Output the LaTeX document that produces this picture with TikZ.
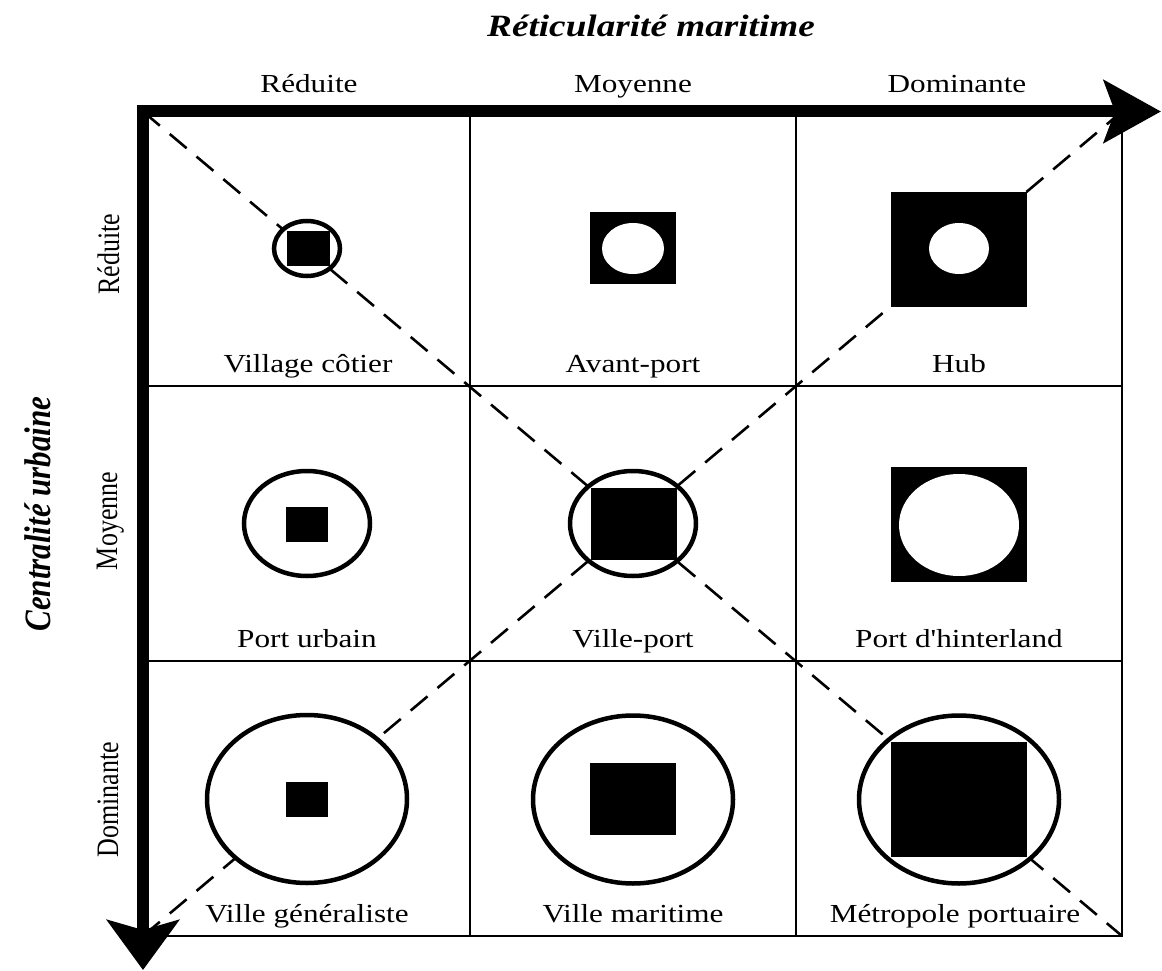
\documentclass[tikz,border=0pt]{standalone}
\usepackage{fontspec}
\setmainfont{Liberation Serif}
\usepackage{graphicx}
\usetikzlibrary{arrows.meta,shapes.geometric}
\newcommand\hstr[1]{\scalebox{1.2}[1]{#1}}
\newcommand\vstr[1]{\scalebox{1}[1.2]{#1}}
\begin{document}
\begin{tikzpicture}[x=1pt,y=-1pt,
  grid/.style={line width=2pt, line cap=rect},
  diag/.style={line width=2.6pt, dash pattern=on 22pt off 13pt},
  ring/.style={ellipse, draw, line width=4.5pt, fill=white, inner sep=0pt, outer sep=0pt},
  hole/.style={ellipse, fill=white, inner sep=0pt, outer sep=0pt},
  blk/.style={rectangle, fill=black, inner sep=0pt, outer sep=0pt},
  lbl/.style={font=\fontsize{26}{30}\selectfont, anchor=base, inner sep=0pt},
  rlbl/.style={font=\fontsize{26}{30}\selectfont, anchor=base, inner sep=0pt, rotate=90},
  ttl/.style={font=\fontsize{31}{35}\selectfont\bfseries\itshape, anchor=base, inner sep=0pt},
  rttl/.style={font=\fontsize{31}{35}\selectfont\bfseries\itshape, anchor=base, inner sep=0pt, rotate=90},
]
\fill[white] (0,0) rectangle (1162,971);
\useasboundingbox (0,0) rectangle (1162,971);

% corner coordinates
\coordinate (TL) at (143,111.5);
\coordinate (TR) at (1122,111.5);
\coordinate (BL) at (143,936);
\coordinate (BR) at (1122,936);
\coordinate (Xend) at (1161,111.5);
\coordinate (Yend) at (143,970);

% grid
\draw[grid] (470,111.5) -- (470,936);
\draw[grid] (796,111.5) -- (796,936);
\draw[grid] (TR) -- (BR);
\draw[grid] (143,386) -- (1122,386);
\draw[grid] (143,661) -- (1122,661);
\draw[grid] (BL) -- (BR);

% diagonals
\draw[diag] (TL) -- (BR);
\draw[diag] (BL) -- (TR);

% row 1
\node[ring, minimum width=66, minimum height=55] (r11) at (307,248.5) {};
\node[blk, minimum width=43, minimum height=35] (s11) at (308,248) {};
\node[blk, minimum width=86, minimum height=72] (s12) at (633,248) {};
\node[hole, minimum width=62, minimum height=51] (h12) at (633,248.5) {};
\node[blk, minimum width=136, minimum height=115] (s13) at (959,249.5) {};
\node[hole, minimum width=60, minimum height=51] (h13) at (959,248.5) {};
% row 2
\node[ring, minimum width=126, minimum height=105] (r21) at (307,523.5) {};
\node[blk, minimum width=42, minimum height=35] (s21) at (307,524.5) {};
\node[ring, minimum width=126, minimum height=105] (r22) at (633,523.5) {};
\node[blk, minimum width=86, minimum height=72] (s22) at (633.5,524) {};
\node[blk, minimum width=136, minimum height=115] (s23) at (959,524.5) {};
\node[hole, minimum width=120, minimum height=102] (h23) at (959,525) {};
% row 3
\node[ring, minimum width=200, minimum height=168] (r31) at (307,799) {};
\node[blk, minimum width=42, minimum height=35] (s31) at (307,799.5) {};
\node[ring, minimum width=200, minimum height=168] (r32) at (633,799.5) {};
\node[blk, minimum width=86, minimum height=72] (s32) at (633,799) {};
\node[ring, minimum width=200, minimum height=168] (r33) at (959,799.5) {};
\node[blk, minimum width=136, minimum height=115] (s33) at (959,799.5) {};

% axes
\draw[line width=12pt, line join=miter,
  {Stealth[length=50pt,width=72pt,inset=10pt]}-{Stealth[length=57pt,width=62pt,inset=11pt]}]
  (Yend) -- (TL) -- (Xend);

% cell labels
\node[lbl] (l11) at (308,372) {\hstr{Village côtier}};
\node[lbl] (l12) at (633,372) {\hstr{Avant-port}};
\node[lbl] (l13) at (959,372) {\hstr{Hub}};
\node[lbl] (l21) at (307,647) {\hstr{Port urbain}};
\node[lbl] (l22) at (633,647) {\hstr{Ville-port}};
\node[lbl] (l23) at (959,647) {\hstr{Port d\textquotesingle hinterland}};
\node[lbl] (l31) at (307,922) {\hstr{Ville généraliste}};
\node[lbl] (l32) at (633,922) {\hstr{Ville maritime}};
\node[lbl] (l33) at (955,922) {\hstr{Métropole portuaire}};

% column headers
\node[lbl] (c1) at (309,93) {\hstr{Réduite}};
\node[lbl] (c2) at (633,93) {\hstr{Moyenne}};
\node[lbl] (c3) at (957,93) {\hstr{Dominante}};

% row headers
\node[rlbl] (h1) at (119,254) {\vstr{Réduite}};
\node[rlbl] (h2) at (117,521) {\vstr{Moyenne}};
\node[rlbl] (h3) at (118,800) {\vstr{Dominante}};

% axis titles
\node[ttl] (tx) at (651,37) {\hstr{Réticularité maritime}};
\node[rttl] (ty) at (50,514) {\vstr{Centralité urbaine}};
\end{tikzpicture}
\end{document}
